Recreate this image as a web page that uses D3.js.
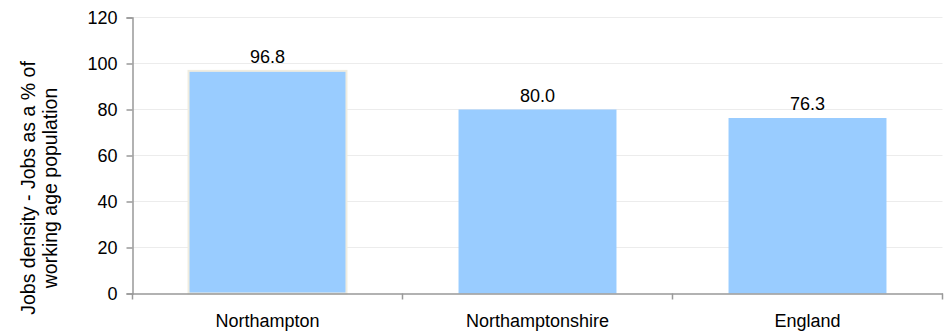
<!DOCTYPE html>
<html>
<head>
<meta charset="utf-8">
<script src="https://cdn.jsdelivr.net/npm/d3@7"></script>
<style>
  body { margin: 0; background: #fff; }
  text { font-family: "Liberation Sans", Arial, sans-serif; fill: #000; }
</style>
</head>
<body>
<div class="canvas"></div>
<script>
const categories = ["Northampton", "Northamptonshire", "England"];
const values = [96.8, 80.0, 76.3];
const yTicks = [0, 20, 40, 60, 80, 100, 120];
const highlight = "Northampton";

const data = categories.map((name, i) => ({ name, value: values[i] }));

let dims = { width: 944, height: 332 };
let margin = { top: 17.5, right: 1.5, bottom: 38.5, left: 132.5 };
let inner = {
    width: dims.width - margin.left - margin.right,
    height: dims.height - margin.top - margin.bottom
};

const svg = d3
    .select(".canvas")
    .append("svg")
    .attr("width", dims.width)
    .attr("height", dims.height);

const chart = svg
    .append("g")
    .attr("transform", `translate(${margin.left},${margin.top})`);

const x = d3
    .scaleBand()
    .domain(categories)
    .range([0, inner.width])
    .paddingInner(0.415)
    .paddingOuter(0.2075);

const y = d3.scaleLinear().domain([0, 120]).range([inner.height, 0]);

// gridlines
chart
    .append("g")
    .selectAll("line")
    .data(yTicks.slice(1))
    .enter()
    .append("line")
    .attr("x1", 0)
    .attr("x2", inner.width)
    .attr("y1", (d) => y(d))
    .attr("y2", (d) => y(d))
    .attr("stroke", "#ececec")
    .attr("stroke-width", 1);

// bars
chart
    .selectAll("rect.bar")
    .data(data)
    .enter()
    .append("rect")
    .attr("class", "bar")
    .attr("x", (d) => x(d.name))
    .attr("y", (d) => y(d.value))
    .attr("width", x.bandwidth())
    .attr("height", (d) => inner.height - y(d.value))
    .attr("fill", "#99ccff")
    .attr("stroke", (d) => (d.name === highlight ? "#efece0" : "none"))
    .attr("stroke-width", 2);

// value labels
chart
    .selectAll("text.val")
    .data(data)
    .enter()
    .append("text")
    .attr("class", "val")
    .attr("x", (d) => x(d.name) + x.bandwidth() / 2)
    .attr("y", (d) => y(d.value) - 8)
    .attr("text-anchor", "middle")
    .style("font-size", "18px")
    .text((d) => d.value.toFixed(1));

// y axis
const yAxis = d3
    .axisLeft(y)
    .tickValues(yTicks)
    .tickSize(6)
    .tickPadding(9);
const yG = chart.append("g").call(yAxis);
yG.select(".domain").attr("stroke", "#999").attr("stroke-width", 1.5);
yG.selectAll(".tick line").attr("stroke", "#999").attr("stroke-width", 1.5);
yG.selectAll(".tick text")
    .style("font-size", "18px")
    .attr("fill", "#000")
    .attr("dy", "0.35em");

// x axis
const xAxis = d3.axisBottom(x).tickSize(0).tickPadding(20.5);
const xG = chart
    .append("g")
    .attr("transform", `translate(0,${inner.height})`)
    .call(xAxis);
xG.select(".domain").attr("stroke", "#999").attr("stroke-width", 1.5);
xG.selectAll(".tick text").style("font-size", "18px").attr("fill", "#000");

// category boundary ticks
const bounds = [0].concat(categories.map((c) => x(c) - (x.step() * x.paddingInner()) / 2 + x.step()));
xG.append("g")
    .selectAll("line")
    .data(bounds)
    .enter()
    .append("line")
    .attr("x1", (d) => d)
    .attr("x2", (d) => d)
    .attr("y1", 0)
    .attr("y2", 6)
    .attr("stroke", "#999")
    .attr("stroke-width", 1.5);

// y axis title
const title = svg
    .append("text")
    .attr("transform", "translate(35,188) rotate(-90)")
    .attr("text-anchor", "middle")
    .style("font-size", "19.5px");
title.append("tspan").attr("x", 0).attr("y", 0).text("Jobs density - Jobs as a % of");
title.append("tspan").attr("x", 0).attr("y", 21.5).text("working age population");
</script>
</body>
</html>
